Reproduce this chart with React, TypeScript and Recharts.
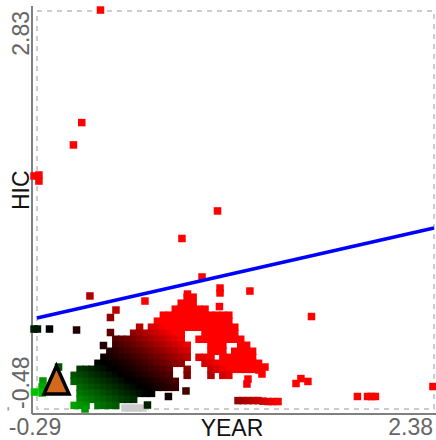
import React from 'react';
import { ScatterChart, Scatter, XAxis, YAxis, ReferenceArea } from 'recharts';

const xTicks = [-0.29, 2.38];
const yTicks = [-0.48, 2.83];

// The dense cloud, one list of YEAR values per HIC value
const cloudHic = [0.45, 0.4, 0.35, 0.3, 0.25, 0.2, 0.15, 0.1, 0.05, 0, -0.05, -0.1, -0.15, -0.2, -0.25, -0.3, -0.35, -0.4, -0.45];
const cloudYear = [
  [0.72, 0.76],
  [0.68, 0.72, 0.76],
  [0.64, 0.68, 0.72, 0.76, 0.8, 0.84],
  [0.56, 0.6, 0.64, 0.68, 0.72, 0.76, 0.8, 0.84, 0.88, 0.92, 0.96, 1.0],
  [0.52, 0.56, 0.6, 0.64, 0.68, 0.72, 0.76, 0.8, 0.84, 0.88, 0.92, 0.96, 1.0],
  [0.4, 0.48, 0.52, 0.56, 0.6, 0.64, 0.68, 0.72, 0.76, 0.8, 0.84, 0.88, 0.92, 0.96, 1.0, 1.04],
  [0.36, 0.4, 0.44, 0.48, 0.52, 0.56, 0.6, 0.64, 0.68, 0.84, 0.88, 0.92, 0.96, 1.0, 1.04],
  [0.24, 0.28, 0.32, 0.36, 0.4, 0.44, 0.48, 0.52, 0.56, 0.6, 0.64, 0.68, 0.8, 0.84, 0.88, 0.92, 0.96, 1.0, 1.04, 1.08],
  [0.24, 0.28, 0.32, 0.36, 0.4, 0.44, 0.48, 0.52, 0.56, 0.6, 0.64, 0.68, 0.72, 0.88, 0.92, 0.96, 1.08, 1.12],
  [0.2, 0.24, 0.28, 0.32, 0.36, 0.4, 0.44, 0.48, 0.52, 0.56, 0.6, 0.64, 0.68, 0.72, 0.88, 0.92, 0.96, 1.04, 1.08, 1.12, 1.16],
  [0.16, 0.2, 0.24, 0.28, 0.32, 0.36, 0.4, 0.44, 0.48, 0.52, 0.56, 0.6, 0.64, 0.68, 0.72, 0.8, 0.84, 0.88, 0.96, 1.0, 1.04, 1.08, 1.12, 1.16],
  [0.12, 0.16, 0.2, 0.24, 0.28, 0.32, 0.36, 0.4, 0.44, 0.48, 0.52, 0.56, 0.6, 0.64, 0.68, 0.84, 0.88, 0.92, 0.96, 1.0, 1.04, 1.08, 1.12, 1.16, 1.2],
  [0, 0.04, 0.08, 0.12, 0.16, 0.2, 0.24, 0.28, 0.32, 0.36, 0.4, 0.44, 0.48, 0.52, 0.56, 0.6, 0.72, 0.88, 0.92, 0.96, 1.0, 1.04, 1.08, 1.12, 1.16],
  [-0.04, 0, 0.04, 0.08, 0.12, 0.16, 0.2, 0.24, 0.28, 0.32, 0.36, 0.4, 0.44, 0.48, 0.52, 0.56, 0.6, 0.72, 0.88, 0.96, 1.0],
  [-0.04, 0, 0.04, 0.08, 0.12, 0.16, 0.2, 0.24, 0.28, 0.32, 0.36, 0.4, 0.44, 0.48, 0.52, 0.56, 0.6, 0.64],
  [0, 0.04, 0.08, 0.12, 0.16, 0.2, 0.24, 0.28, 0.32, 0.36, 0.4, 0.44, 0.48, 0.52, 0.56, 0.6, 0.64],
  [0, 0.04, 0.08, 0.12, 0.16, 0.2, 0.24, 0.28, 0.32, 0.36, 0.4, 0.44, 0.48],
  [0, 0.04, 0.08, 0.12, 0.16, 0.2, 0.24, 0.28, 0.32, 0.36],
  [-0.04, 0, 0.04, 0.12, 0.16, 0.2, 0.24],
];

// Stragglers around the cloud
const looseYear = [0.137, 0.011, -0.045, -0.31, -0.277, -0.277, 0.924, 0.685, 0.82, 0.722, 0.941, 0.941, 1.142, 0.937, 0.436, 0.066, 0.241, 0.204, 0.204, 0.157, -0.024, -0.206, -0.31, -0.287, 1.556, 1.452, 1.485, 1.532, 1.865, 1.933, 1.96, 1.986, 2.373, 1.129, 1.122, 1.203, 1.243, 1.223, 1.062, 1.095, 1.129, 1.163, 1.196, 1.23, 1.264, 1.297, 1.331, -0.25, -0.256, -0.256, -0.307, -0.145, 0.033, 0.594, 0.712, 0.453];
const looseHic = [2.838, 1.902, 1.716, 1.458, 1.466, 1.416, 1.167, 0.938, 0.618, 0.476, 0.526, 0.485, 0.501, 0.372, 0.418, 0.46, 0.343, 0.281, 0.156, 0.048, 0.177, 0.185, 0.185, 0.185, 0.289, -0.268, -0.227, -0.251, -0.376, -0.376, -0.376, -0.376, -0.293, -0.231, -0.272, -0.156, -0.131, -0.189, -0.41, -0.41, -0.41, -0.41, -0.41, -0.415, -0.418, -0.418, -0.418, -0.247, -0.297, -0.347, -0.339, -0.131, -0.48, -0.376, -0.33, -0.447];

// Light grey records along the floor
const greyYear = [0.302, 0.342, 0.383, 0.423];
const greyHic = [-0.472, -0.472, -0.472, -0.472];

const trendYear = [-0.29, 2.38];
const trendHic = [0.277, 1.025];

const meanYear = [-0.159];
const meanHic = [-0.239];

function colourOf(year: number, hic: number): string {
  const v = 1.263 * (year - 0.303) + 1.551 * (hic + 0.222);
  const a = Math.min(1, Math.abs(v));
  return v >= 0 ? `rgb(${Math.round(Math.pow(a, 1.3) * 255)},0,0)` : `rgb(0,${Math.round(a * 0.8 * 255)},0)`;
}

const cloudData = cloudHic.flatMap((y, i) => cloudYear[i].map((x) => ({ x, y })));
const looseData = looseYear.map((x, i) => ({ x, y: looseHic[i] }));
const greyData = greyYear.map((x, i) => ({ x, y: greyHic[i] }));
const trendData = trendYear.map((x, i) => ({ x, y: trendHic[i] }));
const meanData = meanYear.map((x, i) => ({ x, y: meanHic[i] }));

const FONT = '"Liberation Sans", Arial, sans-serif';
const TICK = '#666666';
const FS = 23;
const SIDE = 7.5;

const Square = (p: any) => (
  <rect x={p.cx - SIDE / 2} y={p.cy - SIDE / 2} width={SIDE} height={SIDE} fill={colourOf(p.payload.x, p.payload.y)} />
);
const GreySquare = (p: any) => <rect x={p.cx - SIDE / 2} y={p.cy - SIDE / 2} width={SIDE} height={SIDE} fill="#cccccc" />;
const Triangle = (p: any) => (
  <polygon
    points={`${p.cx},${p.cy - 14} ${p.cx - 12.5},${p.cy + 14} ${p.cx + 12.5},${p.cy + 14}`}
    fill="#D2691E"
    stroke="#000000"
    strokeWidth={3.5}
  />
);
const NoDot = () => null;

const XTick = (p: any) => {
  const first = p.payload.value === xTicks[0];
  return (
    <text x={first ? p.x - 2 : p.x - 1} y={435} textAnchor={first ? 'middle' : 'end'} fontFamily={FONT} fontSize={FS} fill={TICK}>
      {p.payload.value.toFixed(2)}
    </text>
  );
};

const YTick = (p: any) => {
  const low = p.payload.value === yTicks[0];
  return (
    <g>
      <text
        x={29}
        y={p.y}
        transform={`rotate(-90 29 ${p.y})`}
        textAnchor={low ? 'start' : 'end'}
        fontFamily={FONT}
        fontSize={FS}
        fill={TICK}
      >
        {p.payload.value.toFixed(2)}
      </text>
      {low ? (
        <text x={12} y={p.y + 2} transform={`rotate(-90 12 ${p.y + 2})`} fontFamily={FONT} fontSize={13} fontWeight="bold" fill="#999999">
          -
        </text>
      ) : null}
    </g>
  );
};

export default function App() {
  return (
    <div style={{ position: 'absolute', left: 0, top: 0, width: 436, height: 440 }}>
      <ScatterChart width={436} height={440} margin={{ top: 6, right: 0, bottom: 0, left: 0 }}>
        <XAxis
          type="number"
          dataKey="x"
          domain={[-0.3236, 2.3935]}
          ticks={xTicks}
          interval={0}
          height={26}
          tick={XTick}
          tickLine={false}
          axisLine={{ stroke: '#808080', strokeWidth: 2 }}
          label={{ value: 'YEAR', position: 'insideBottom', offset: 4, dx: -2, fill: '#111111', fontSize: FS, fontFamily: FONT }}
        />
        <YAxis
          type="number"
          dataKey="y"
          domain={[-0.5216, 2.8716]}
          ticks={yTicks}
          interval={0}
          width={32}
          tick={YTick}
          tickLine={false}
          axisLine={{ stroke: '#808080', strokeWidth: 2 }}
          label={{ value: 'HIC', angle: -90, position: 'insideLeft', offset: 21, fill: '#111111', fontSize: FS, fontFamily: FONT }}
        />
        <Scatter data={greyData} shape={GreySquare} isAnimationActive={false} />
        <Scatter data={cloudData} shape={Square} isAnimationActive={false} />
        <Scatter data={looseData} shape={Square} isAnimationActive={false} />
        <ReferenceArea
          x1={xTicks[0]}
          x2={xTicks[1]}
          y1={yTicks[0]}
          y2={yTicks[1]}
          fill="none"
          stroke="#cccccc"
          strokeWidth={2}
          strokeDasharray="5 5"
        />
        <Scatter data={trendData} line={{ stroke: '#0000ff', strokeWidth: 3.5 }} shape={NoDot} isAnimationActive={false} />
        <Scatter data={meanData} shape={Triangle} isAnimationActive={false} />
      </ScatterChart>
    </div>
  );
}
